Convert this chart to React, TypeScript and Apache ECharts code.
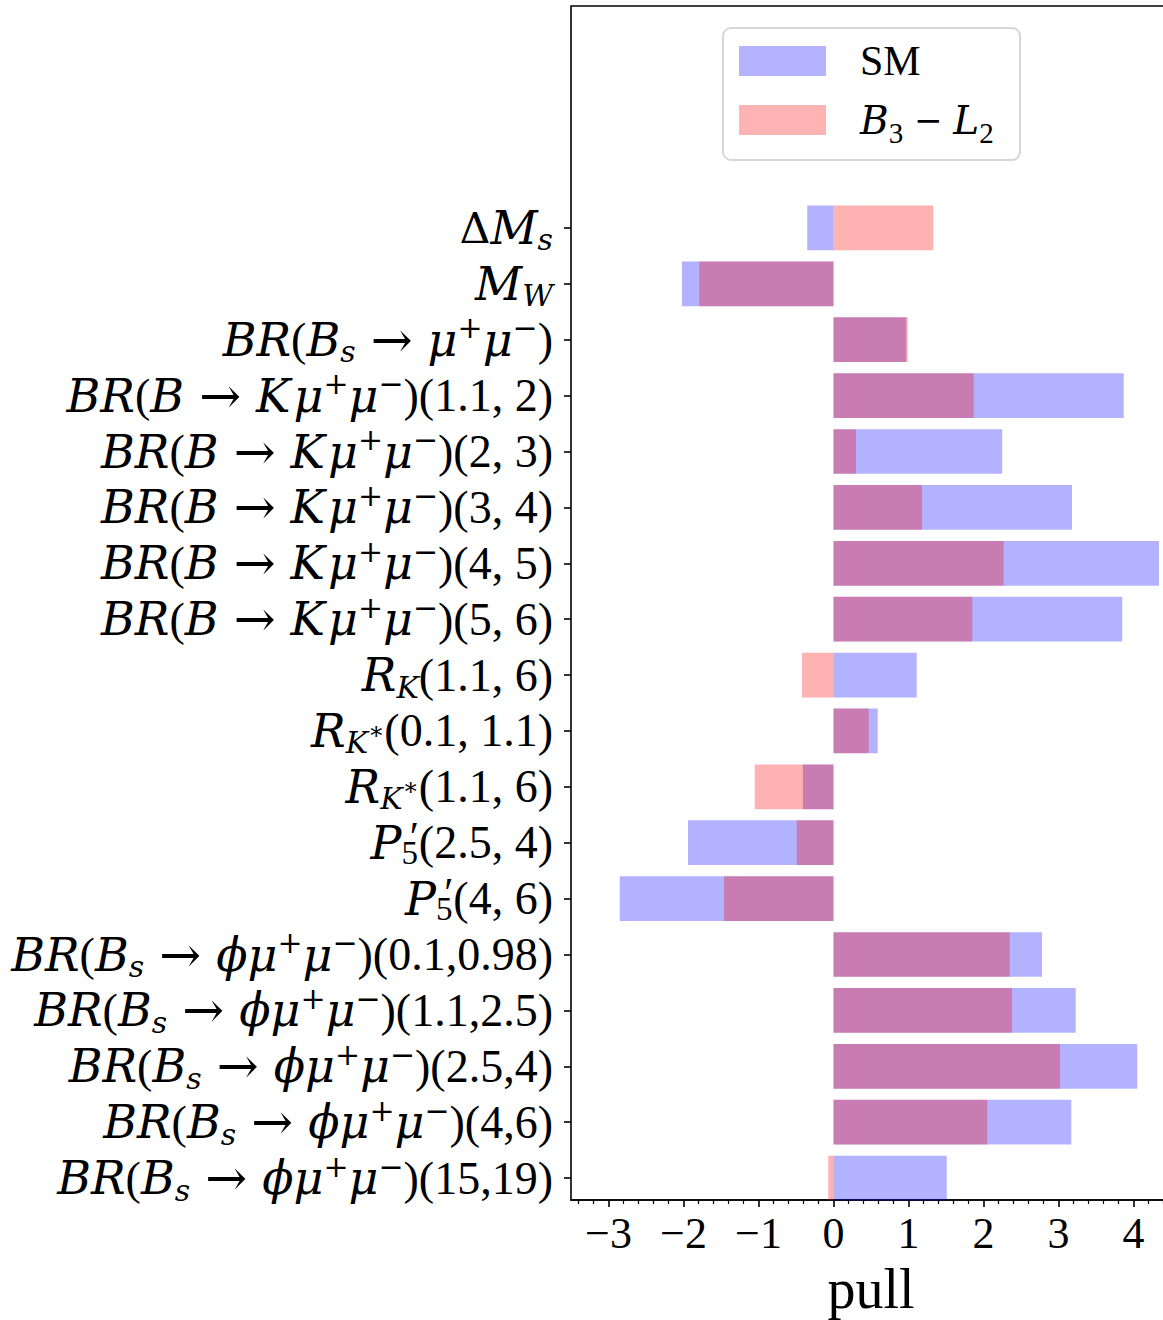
import React, { useEffect, useRef } from "react";
import * as echarts from "echarts";

const categories = [
  "ΔM_s",
  "M_W",
  "BR(B_s → μ⁺μ⁻)",
  "BR(B → Kμ⁺μ⁻)(1.1, 2)",
  "BR(B → Kμ⁺μ⁻)(2, 3)",
  "BR(B → Kμ⁺μ⁻)(3, 4)",
  "BR(B → Kμ⁺μ⁻)(4, 5)",
  "BR(B → Kμ⁺μ⁻)(5, 6)",
  "R_K(1.1, 6)",
  "R_K*(0.1, 1.1)",
  "R_K*(1.1, 6)",
  "P′_5(2.5, 4)",
  "P′_5(4, 6)",
  "BR(B_s → ϕμ⁺μ⁻)(0.1,0.98)",
  "BR(B_s → ϕμ⁺μ⁻)(1.1,2.5)",
  "BR(B_s → ϕμ⁺μ⁻)(2.5,4)",
  "BR(B_s → ϕμ⁺μ⁻)(4,6)",
  "BR(B_s → ϕμ⁺μ⁻)(15,19)",
];

// rich-text rendering of each category label (same order as categories)
const richLabels = [
  "{rd|Δ}{i|M}{sb|s}",
  "{i|M}{sb|W}",
  "{i|BR}{r|(}{i|B}{sb|s}{ar|→}{i|μ}{sp|+}{i|μ}{sp|−}{r|)}",
  "{i|BR}{r|(}{i|B}{ar|→}{ik|K}{i|μ}{sp|+}{i|μ}{sp|−}{r|)(1.1, 2)}",
  "{i|BR}{r|(}{i|B}{ar|→}{ik|K}{i|μ}{sp|+}{i|μ}{sp|−}{r|)(2, 3)}",
  "{i|BR}{r|(}{i|B}{ar|→}{ik|K}{i|μ}{sp|+}{i|μ}{sp|−}{r|)(3, 4)}",
  "{i|BR}{r|(}{i|B}{ar|→}{ik|K}{i|μ}{sp|+}{i|μ}{sp|−}{r|)(4, 5)}",
  "{i|BR}{r|(}{i|B}{ar|→}{ik|K}{i|μ}{sp|+}{i|μ}{sp|−}{r|)(5, 6)}",
  "{i|R}{sb|K}{r|(1.1, 6)}",
  "{i|R}{sb|K}{ss|∗}{r|(0.1, 1.1)}",
  "{i|R}{sb|K}{ss|∗}{r|(1.1, 6)}",
  "{i|P}{sbr|5}{pr|′}{r|(2.5, 4)}",
  "{i|P}{sbr|5}{pr|′}{r|(4, 6)}",
  "{i|BR}{r|(}{i|B}{sb|s}{ar|→}{i|ϕμ}{sp|+}{i|μ}{sp|−}{r|)(0.1,0.98)}",
  "{i|BR}{r|(}{i|B}{sb|s}{ar|→}{i|ϕμ}{sp|+}{i|μ}{sp|−}{r|)(1.1,2.5)}",
  "{i|BR}{r|(}{i|B}{sb|s}{ar|→}{i|ϕμ}{sp|+}{i|μ}{sp|−}{r|)(2.5,4)}",
  "{i|BR}{r|(}{i|B}{sb|s}{ar|→}{i|ϕμ}{sp|+}{i|μ}{sp|−}{r|)(4,6)}",
  "{i|BR}{r|(}{i|B}{sb|s}{ar|→}{i|ϕμ}{sp|+}{i|μ}{sp|−}{r|)(15,19)}",
];

const smPull = [
  -0.35, -2.02, 0.97, 3.87, 2.25, 3.18, 4.34, 3.85, 1.11, 0.59, -0.41, -1.94,
  -2.85, 2.78, 3.23, 4.05, 3.17, 1.51,
];
const b3l2Pull = [
  1.33, -1.79, 0.99, 1.87, 0.3, 1.18, 2.27, 1.85, -0.42, 0.47, -1.05, -0.49,
  -1.46, 2.35, 2.38, 3.02, 2.05, -0.07,
];

const majorTicks = [-3, -2, -1, 0, 1, 2, 3, 4];
const minorTicks: number[] = [];
for (let k = -17; k <= 22; k++) {
  if (k % 5 !== 0) minorTicks.push(k / 5);
}

const X_MIN = -3.5;
const X_MAX = 4.5;
const DJ = "'DejaVu Serif', serif";
const LIB = "'Liberation Serif', 'DejaVu Serif', serif";

export default function App() {
  const ref = useRef<HTMLDivElement>(null);

  useEffect(() => {
    if (!ref.current) return;
    const chart = echarts.init(ref.current, undefined, { renderer: "svg" });
    const black = "#000";
    const LH = 54;
    const LLH = 54;
    const option: any = {
      animation: false,
      backgroundColor: "#fff",
      grid: [
        {
          left: 571,
          top: 6,
          width: 600,
          height: 1194,
          show: true,
          borderColor: black,
          borderWidth: 1.6,
          backgroundColor: "transparent",
          containLabel: false,
          outerBoundsMode: "none",
        },
        {
          left: 571,
          top: 200,
          width: 600,
          height: 1006,
          containLabel: false,
          outerBoundsMode: "none",
        },
      ],
      xAxis: [
        {
          gridIndex: 0,
          type: "value",
          min: X_MIN,
          max: X_MAX,
          splitLine: { show: false },
          axisLine: { show: true, lineStyle: { color: black, width: 1.6 } },
          axisTick: {
            show: true,
            length: 7,
            customValues: majorTicks,
            lineStyle: { color: black, width: 1.6 },
          },
          axisLabel: {
            show: true,
            customValues: majorTicks,
            margin: 11,
            color: black,
            fontFamily: LIB,
            fontSize: 44,
            formatter: (v: number) => (v < 0 ? "−" + Math.abs(v) : String(v)),
          },
          name: "pull",
          nameLocation: "middle",
          nameGap: 61,
          nameTextStyle: { color: black, fontFamily: LIB, fontSize: 56 },
        },
        {
          gridIndex: 1,
          type: "value",
          min: X_MIN,
          max: X_MAX,
          show: false,
          splitLine: { show: false },
        },
        {
          gridIndex: 0,
          type: "value",
          min: X_MIN,
          max: X_MAX,
          position: "bottom",
          splitLine: { show: false },
          axisLine: { show: false },
          axisLabel: { show: false },
          axisTick: {
            show: true,
            length: 4,
            customValues: minorTicks,
            lineStyle: { color: black, width: 1.2 },
          },
        },
      ],
      yAxis: [
        {
          gridIndex: 0,
          type: "value",
          min: 0,
          max: 1,
          show: false,
          splitLine: { show: false },
        },
        {
          gridIndex: 1,
          type: "category",
          inverse: true,
          data: categories,
          splitLine: { show: false },
          axisLine: { show: false, onZero: false },
          axisTick: {
            show: true,
            alignWithLabel: true,
            length: 7,
            lineStyle: { color: black, width: 1.6 },
          },
          axisLabel: {
            interval: 0,
            margin: 18,
            color: black,
            formatter: (_v: string, idx: number) => richLabels[idx],
            rich: {
              r: { fontFamily: LIB, fontSize: 46, lineHeight: LH, color: black },
              rd: { fontFamily: DJ, fontSize: 43, lineHeight: LH, color: black },
              ar: {
                fontFamily: DJ,
                fontSize: 50,
                lineHeight: LH,
                width: 72,
                align: "center",
                color: black,
              },
              i: {
                fontFamily: DJ,
                fontStyle: "italic",
                fontSize: 46,
                lineHeight: LH,
                color: black,
              },
              ik: {
                fontFamily: DJ,
                fontStyle: "italic",
                fontSize: 46,
                lineHeight: LH,
                padding: [0, 3, 0, 0],
                color: black,
              },
              sp: {
                fontFamily: DJ,
                fontSize: 30,
                lineHeight: 30,
                verticalAlign: "top",
                color: black,
              },
              sb: {
                fontFamily: DJ,
                fontStyle: "italic",
                fontSize: 30,
                lineHeight: 30,
                verticalAlign: "bottom",
                color: black,
              },
              sbr: {
                fontFamily: LIB,
                fontSize: 33,
                lineHeight: 28,
                verticalAlign: "bottom",
                color: black,
              },
              ss: {
                fontFamily: DJ,
                fontSize: 24,
                lineHeight: 30,
                color: black,
              },
              pr: {
                fontFamily: LIB,
                fontSize: 42,
                lineHeight: 36,
                width: 1,
                align: "right",
                verticalAlign: "top",
                color: black,
              },
            },
          },
        },
      ],
      legend: {
        orient: "vertical",
        left: 739,
        top: 34,
        padding: 0,
        itemWidth: 87,
        itemHeight: 30,
        itemGap: 5,
        icon: "rect",
        z: 10,
        data: [
          { name: "SM", itemStyle: { color: "#b3b3ff", opacity: 1 } },
          { name: "B3 − L2", itemStyle: { color: "#ffb3b3", opacity: 1 } },
        ],
        formatter: (name: string) =>
          name === "SM" ? "{r|SM}" : "{i|B}{sb|3}{m| − }{i|L}{sb|2}",
        textStyle: {
          padding: [0, 0, 0, 29],
          lineHeight: LLH,
          rich: {
            r: { fontFamily: LIB, fontSize: 42, lineHeight: LLH, color: black },
            m: { fontFamily: DJ, fontSize: 34, lineHeight: LLH, color: black },
            i: {
              fontFamily: DJ,
              fontStyle: "italic",
              fontSize: 39,
              lineHeight: LLH,
              color: black,
            },
            sb: {
              fontFamily: LIB,
              fontSize: 29,
              lineHeight: 29,
              verticalAlign: "bottom",
              color: black,
            },
          },
        },
      },
      graphic: [
        {
          type: "rect",
          z: 1,
          shape: { x: 723, y: 28, width: 297, height: 132, r: 8 },
          style: { fill: "rgba(255,255,255,0.85)", stroke: "#d6d6d6", lineWidth: 2 },
        },
      ],
      series: [
        {
          name: "SM",
          type: "bar",
          xAxisIndex: 1,
          yAxisIndex: 1,
          data: smPull,
          barWidth: "80%",
          barGap: "-100%",
          itemStyle: { color: "#0000ff", opacity: 0.3 },
          emphasis: { disabled: true },
        },
        {
          name: "B3 − L2",
          type: "bar",
          xAxisIndex: 1,
          yAxisIndex: 1,
          data: b3l2Pull,
          barWidth: "80%",
          barGap: "-100%",
          itemStyle: { color: "#ff0000", opacity: 0.3 },
          emphasis: { disabled: true },
        },
      ],
    };
    chart.setOption(option);
    return () => chart.dispose();
  }, []);

  return (
    <div
      style={{
        position: "fixed",
        left: 0,
        top: 0,
        width: 1163,
        height: 1320,
        overflow: "hidden",
        background: "#fff",
      }}
    >
      <div ref={ref} style={{ width: 1200, height: 1320 }} />
    </div>
  );
}
